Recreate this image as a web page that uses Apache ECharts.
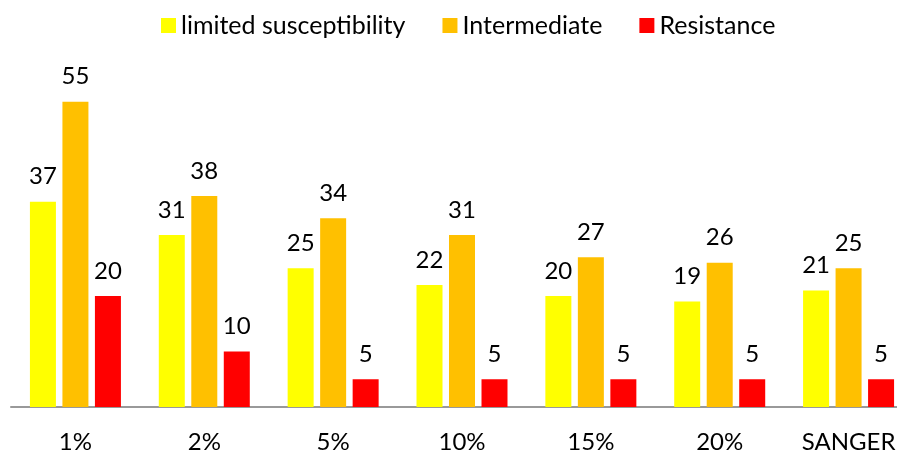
<!DOCTYPE html>
<html>
<head>
<meta charset="utf-8">
<script src="https://cdn.jsdelivr.net/npm/echarts@6/dist/echarts.min.js"></script>
<style>
  html, body { margin: 0; padding: 0; background: #fff; }
  #chart { width: 897px; height: 453px; }
</style>
</head>
<body>
<div id="chart"></div>
<script>
// Categories along the x axis
const categories = ['1%', '2%', '5%', '10%', '15%', '20%', 'SANGER'];

// Series values per category
const limitedSusceptibility = [37, 31, 25, 22, 20, 19, 21];
const intermediate = [55, 38, 34, 31, 27, 26, 25];
const resistance = [20, 10, 5, 5, 5, 5, 5];

const seriesNames = ['limited susceptibility', 'Intermediate', 'Resistance'];
const seriesColors = ['#FFFF00', '#FFC000', '#FF0000'];
const seriesData = [limitedSusceptibility, intermediate, resistance];

const FONT = 'Lato';

const chart = echarts.init(document.getElementById('chart'), null, { renderer: 'canvas' });

chart.setOption({
  animation: false,
  textStyle: { fontFamily: FONT },
  legend: {
    top: 8,
    left: 156,
    itemWidth: 15,
    itemHeight: 15,
    itemGap: 37,
    icon: 'rect',
    textStyle: { fontFamily: FONT, fontSize: 25, color: '#000' },
    data: seriesNames
  },
  grid: {
    left: 11,
    right: -16,
    top: 74,
    bottom: 46,
    containLabel: false,
    outerBoundsMode: 'none'
  },
  xAxis: {
    type: 'category',
    data: categories,
    axisLine: { lineStyle: { color: '#999', width: 2 } },
    axisTick: { show: false },
    axisLabel: { fontFamily: FONT, fontSize: 24, color: '#000', margin: 23 }
  },
  yAxis: {
    type: 'value',
    min: 0,
    max: 60,
    show: false,
    splitLine: { show: false }
  },
  series: seriesData.map((d, i) => ({
    name: seriesNames[i],
    type: 'bar',
    data: d,
    barWidth: 26,
    barGap: '25%',
    itemStyle: { color: seriesColors[i] },
    label: {
      show: true,
      position: 'top',
      distance: 13,
      fontFamily: FONT,
      fontSize: 24,
      color: '#000'
    }
  }))
});
</script>
</body>
</html>
